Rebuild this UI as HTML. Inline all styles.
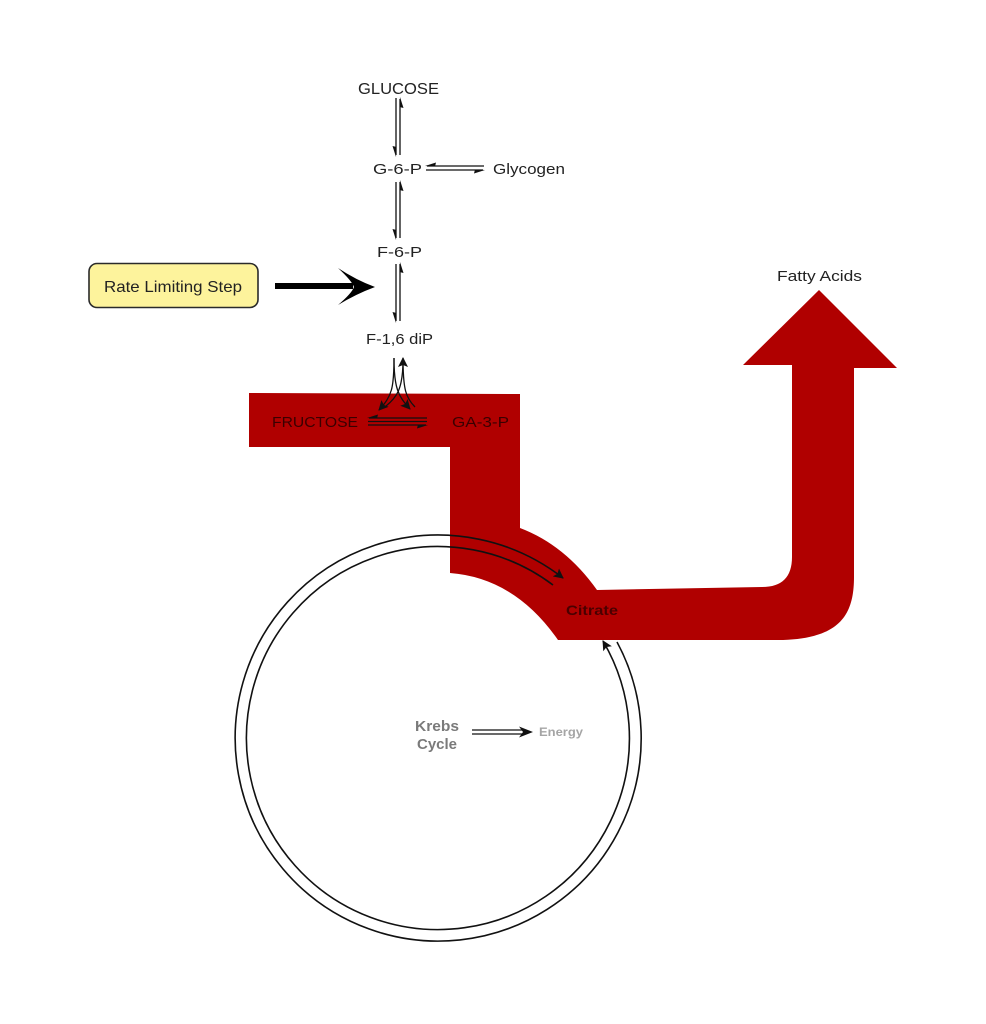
<!DOCTYPE html>
<html><head><meta charset="utf-8"><style>
html,body{margin:0;padding:0;background:#fff;}
svg{display:block;}
text{font-family:"Liberation Sans",sans-serif;}
</style></head><body>
<svg width="986" height="1024" viewBox="0 0 986 1024" xmlns="http://www.w3.org/2000/svg">
<defs>
<marker id="ah" viewBox="0 0 10 10" refX="9" refY="5" markerWidth="10" markerHeight="10" markerUnits="userSpaceOnUse" orient="auto">
<path d="M0,0 L10,5 L0,10 L2,5 Z" fill="#111"/>
</marker>
</defs>
<rect width="986" height="1024" fill="#fff"/>

<!-- red band -->
<path d="M249,393 L520,394 L520,528 Q565,545 597,590 L762,587 Q792,587 792,557 L792,365 L743,365 L819,290 L897,368 L854,368 L854,577 C854,615 840,638 783,640 L558,640 Q515,578 450,573 L450,447 L249,447 Z" fill="#b00000"/>

<!-- Krebs circles -->
<path d="M617,642 A203,203 0 1 1 563,578" fill="none" stroke="#111" stroke-width="1.6" marker-end="url(#ah)"/>
<path d="M553,585 A191.5,191.5 0 1 0 603,641" fill="none" stroke="#111" stroke-width="1.6" marker-end="url(#ah)"/>

<!-- text labels -->
<text x="358" y="94" font-size="15.5" textLength="81" lengthAdjust="spacingAndGlyphs" fill="#222">GLUCOSE</text>
<text x="373" y="174" font-size="15" textLength="49" lengthAdjust="spacingAndGlyphs" fill="#222">G-6-P</text>
<text x="493" y="174" font-size="15" textLength="72" lengthAdjust="spacingAndGlyphs" fill="#222">Glycogen</text>
<text x="377" y="257" font-size="15" textLength="45" lengthAdjust="spacingAndGlyphs" fill="#222">F-6-P</text>
<text x="366" y="344" font-size="15" textLength="67" lengthAdjust="spacingAndGlyphs" fill="#222">F-1,6 diP</text>
<text x="272" y="427" font-size="15" textLength="86" lengthAdjust="spacingAndGlyphs" fill="#3a0000">FRUCTOSE</text>
<text x="452" y="427" font-size="15" textLength="57" lengthAdjust="spacingAndGlyphs" fill="#3a0000">GA-3-P</text>
<text x="777" y="281" font-size="15" textLength="85" lengthAdjust="spacingAndGlyphs" fill="#222">Fatty Acids</text>
<text x="566" y="615" font-size="13.5" font-weight="bold" textLength="52" lengthAdjust="spacingAndGlyphs" fill="#4a0000">Citrate</text>
<text x="415" y="731" font-size="14.5" font-weight="bold" textLength="44" lengthAdjust="spacingAndGlyphs" fill="#7a7a7a">Krebs</text>
<text x="417" y="749" font-size="14.5" font-weight="bold" textLength="40" lengthAdjust="spacingAndGlyphs" fill="#7a7a7a">Cycle</text>
<text x="539" y="736" font-size="11.5" font-weight="bold" textLength="44" lengthAdjust="spacingAndGlyphs" fill="#a5a5a5">Energy</text>

<!-- Rate limiting box -->
<rect x="89" y="263.5" width="169" height="44" rx="8" ry="8" fill="#fdf39c" stroke="#2a2a2a" stroke-width="1.6"/>
<text x="104" y="292" font-size="16" textLength="138" lengthAdjust="spacingAndGlyphs" fill="#222">Rate Limiting Step</text>

<!-- big arrow -->
<rect x="275" y="283" width="78" height="6" fill="#000"/>
<path d="M375,287 Q356,280 338,268 Q352,281 354,287 Q352,293 338,305 Q356,294 375,287 Z" fill="#000"/>

<!-- vertical pairs -->
<g stroke="#111" stroke-width="1.3" fill="none">
<line x1="396" y1="98" x2="396" y2="155"/>
<line x1="400" y1="99" x2="400" y2="155"/>
<line x1="396" y1="182" x2="396" y2="238"/>
<line x1="400" y1="182" x2="400" y2="238"/>
<line x1="396" y1="264" x2="396" y2="321"/>
<line x1="400" y1="264" x2="400" y2="321"/>
<!-- G-6-P / Glycogen -->
<line x1="427" y1="166" x2="484" y2="166"/>
<line x1="426" y1="170" x2="483" y2="170"/>
<!-- Fructose / GA-3-P -->
<line x1="369" y1="418" x2="427" y2="418"/>
<line x1="368" y1="421.5" x2="427" y2="421.5"/>
<line x1="368" y1="425" x2="426" y2="425"/>
</g>
<g fill="#111">
<polygon points="396,157 392.5,146 396.5,147"/>
<polygon points="400,97 403.5,108 399.5,107"/>
<polygon points="396,240 392.5,229 396.5,230"/>
<polygon points="400,180 403.5,191 399.5,190"/>
<polygon points="396,323 392.5,312 396.5,313"/>
<polygon points="400,262 403.5,273 399.5,272"/>
<polygon points="425,166 436,162.5 435,166.5"/>
<polygon points="485,170 474,173.5 475,169.5"/>
<polygon points="367,418 378,414.5 377,418.5"/>
<polygon points="428,425 417,428.5 418,424.5"/>
</g>

<!-- curved arrows -->
<g stroke="#111" stroke-width="1.3" fill="none">
<path d="M394,358 C394,388 392,396 379,410" marker-end="url(#ah)"/>
<path d="M394,358 C394,388 398,396 410,409" marker-end="url(#ah)"/>
<path d="M386,406 C396,398 403,390 403,360" />
<path d="M415,407 C406,398 403,390 403,358" marker-end="url(#ah)"/>
</g>

<!-- Krebs -> Energy arrow -->
<g stroke="#111" stroke-width="1.3">
<line x1="472" y1="730" x2="524" y2="730"/>
<line x1="472" y1="734" x2="524" y2="734"/>
</g>
<path d="M533,732 L519,726.5 L523,732 L519,737.5 Z" fill="#111"/>
</svg>
</body></html>
